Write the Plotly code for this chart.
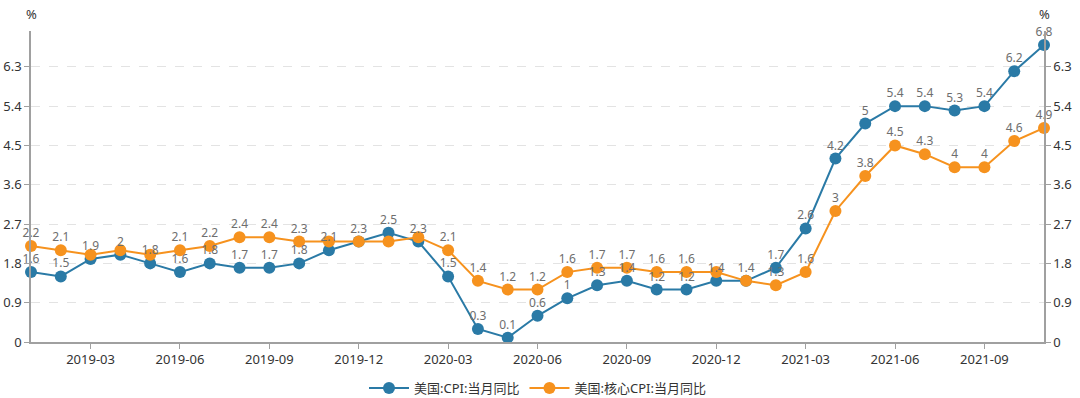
import plotly.graph_objects as go

months = [f"{y}-{m:02d}" for y in (2019, 2020, 2021) for m in range(1, 13)][:35]

cpi = [1.6, 1.5, 1.9, 2.0, 1.8, 1.6, 1.8, 1.7, 1.7, 1.8, 2.1, 2.3,
       2.5, 2.3, 1.5, 0.3, 0.1, 0.6, 1.0, 1.3, 1.4, 1.2, 1.2, 1.4,
       1.4, 1.7, 2.6, 4.2, 5.0, 5.4, 5.4, 5.3, 5.4, 6.2, 6.8]
core_cpi = [2.2, 2.1, 2.0, 2.1, 2.0, 2.1, 2.2, 2.4, 2.4, 2.3, 2.3, 2.3,
            2.3, 2.4, 2.1, 1.4, 1.2, 1.2, 1.6, 1.7, 1.7, 1.6, 1.6, 1.6,
            1.4, 1.3, 1.6, 3.0, 3.8, 4.5, 4.3, 4.0, 4.0, 4.6, 4.9]

# labels hidden because they overlap with the other series' labels
core_hidden = {"2019-03", "2019-04", "2019-05", "2019-11", "2019-12",
               "2020-01", "2020-02", "2020-12", "2021-01"}

tick_months = ["2019-03", "2019-06", "2019-09", "2019-12", "2020-03", "2020-06",
               "2020-09", "2020-12", "2021-03", "2021-06", "2021-09"]
y_ticks = [0, 0.9, 1.8, 2.7, 3.6, 4.5, 5.4, 6.3]


def fmt(v):
    return f"{v:g}"


blue = "#2a7aa6"
orange = "#f6921e"
font_family = "Noto Sans, Noto Sans CJK SC, sans-serif"
label_font = dict(color="#6e6e6e", size=12, family=font_family)

series = [
    ("美国:CPI:当月同比", cpi, blue, set()),
    ("美国:核心CPI:当月同比", core_cpi, orange, core_hidden),
]

fig = go.Figure()
for name, vals, color, hidden in series:
    fig.add_trace(go.Scatter(
        x=months, y=vals, name=name, mode="lines+markers",
        line=dict(color=color, width=2),
        marker=dict(color=color, size=12),
        cliponaxis=False,
    ))
for name, vals, color, hidden in series:
    fig.add_trace(go.Scatter(
        x=months, y=vals, mode="markers+text", showlegend=False, hoverinfo="skip",
        marker=dict(size=8, opacity=0),
        text=["" if m in hidden else fmt(v) for m, v in zip(months, vals)],
        textposition="top center", textfont=label_font,
        cliponaxis=False,
    ))
# invisible trace to activate right axis
fig.add_trace(go.Scatter(x=[months[0]], y=[0], yaxis="y2", showlegend=False,
                         mode="markers", marker=dict(opacity=0), hoverinfo="skip"))

ymax = 7.12
axis_common = dict(
    range=[0, ymax], tickvals=y_ticks, ticktext=[fmt(v) for v in y_ticks],
    showline=True, linecolor="#a0a0a0", linewidth=1.5,
    ticks="outside", ticklen=5, tickcolor="#a0a0a0",
    tickfont=dict(color="#333333", size=13, family=font_family),
    zeroline=False, automargin=False,
)
fig.update_layout(
    width=1080, height=398,
    margin=dict(l=31, r=36, t=31, b=56, autoexpand=False),
    plot_bgcolor="white", paper_bgcolor="white",
    font=dict(family=font_family, color="#333333"),
    xaxis=dict(
        type="category", range=[0, len(months) - 1],
        tickvals=tick_months, ticktext=tick_months,
        showline=True, linecolor="#a0a0a0", linewidth=1.5,
        ticks="outside", ticklen=5, tickcolor="#a0a0a0",
        tickfont=dict(color="#333333", size=13, family=font_family),
        showgrid=False, automargin=False,
    ),
    yaxis=dict(**axis_common, showgrid=True, gridcolor="#e3e3e3",
               griddash="dash", gridwidth=1),
    yaxis2=dict(**axis_common, overlaying="y", side="right", showgrid=False),
    legend=dict(orientation="h", x=0.5, xanchor="center",
                yref="container", y=0.025, yanchor="middle",
                font=dict(size=13, color="#333333", family=font_family),
                itemwidth=40),
    showlegend=True,
    annotations=[
        dict(text="%", xref="paper", yref="paper", x=0, y=1, yshift=17,
             xanchor="center", yanchor="middle", showarrow=False,
             font=dict(size=13, color="#333333")),
        dict(text="%", xref="paper", yref="paper", x=1, y=1, yshift=17,
             xanchor="center", yanchor="middle", showarrow=False,
             font=dict(size=13, color="#333333")),
    ],
)

fig.write_html("out.html", config={"displayModeBar": False},
               post_script="document.body.style.margin='0';")
